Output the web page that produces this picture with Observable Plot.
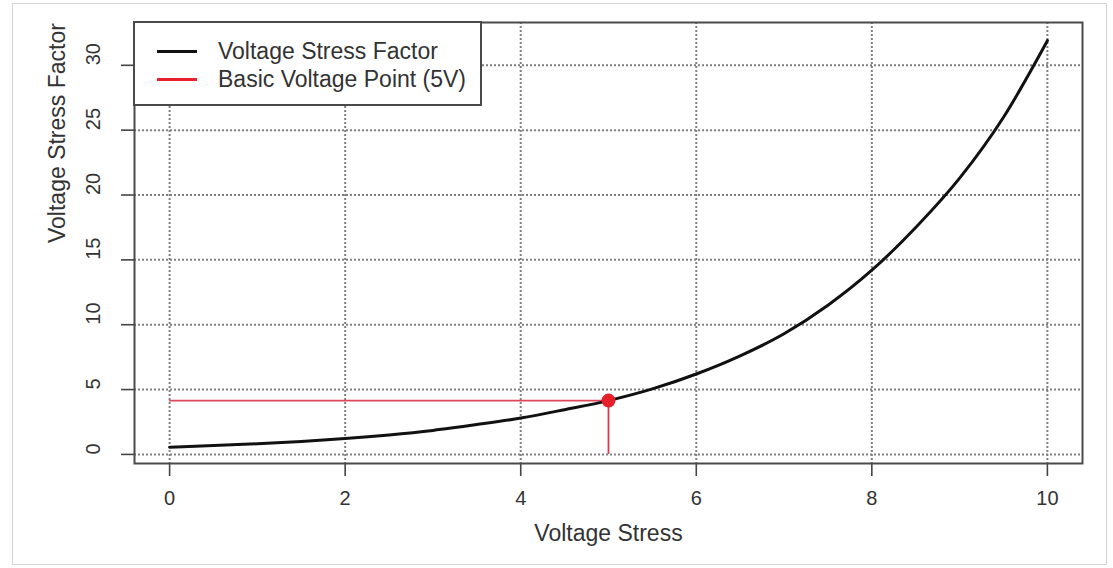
<!DOCTYPE html>
<html>
<head>
<meta charset="utf-8">
<script src="https://cdn.jsdelivr.net/npm/d3@7"></script>
<script src="https://cdn.jsdelivr.net/npm/@observablehq/plot@0.6"></script>
<style>
  body { margin: 0; background: #fff; font-family: "Liberation Sans", Arial, sans-serif; }
  #wrap { position: relative; width: 1113px; height: 568px; overflow: hidden; }
  #outer { position: absolute; left: 12px; top: 3px; width: 1093px; height: 560px; border: 1.5px solid #d4d4d4; pointer-events: none; }
  #legend { position: absolute; left: 133px; top: 21px; width: 349px; height: 85px; box-sizing: border-box;
            border: 2px solid #4a4a4a; background: #fff; }
  .row { position: absolute; left: 0; height: 28px; display: flex; align-items: center; }
  .swatch { position: absolute; left: 22px; width: 40px; height: 0; border-top: 3px solid #111; }
  .lbl { position: absolute; left: 83px; white-space: nowrap; font-size: 23px; color: #333; line-height: 28px; }
</style>
</head>
<body>
<div id="wrap">
  <div id="chart"></div>
  <div id="legend"></div>
  <div id="outer"></div>
</div>
<script>
// ---- data ----
const stress = [0, 0.5, 1, 1.5, 2, 2.5, 3, 3.5, 4, 4.5, 5, 5.5, 6, 6.5, 7, 7.5, 8, 8.5, 9, 9.5, 10];
const factor = [0.55, 0.68, 0.82, 1.0, 1.22, 1.5, 1.85, 2.3, 2.8, 3.45, 4.15, 5.05, 6.2, 7.6, 9.3, 11.5, 14.2, 17.5, 21.3, 26.0, 31.9];
const basicVoltage = 5;
const basicFactor = 4.15;
const xTicks = [0, 2, 4, 6, 8, 10];
const yTicks = [0, 5, 10, 15, 20, 25, 30];
const xTitle = "Voltage Stress";
const yTitle = "Voltage Stress Factor";
const seriesNames = ["Voltage Stress Factor", "Basic Voltage Point (5V)"];
const seriesColors = ["#111111", "#e8202c"];

const curve = stress.map((s, i) => ({stress: s, factor: factor[i]}));
const point = [{stress: basicVoltage, factor: basicFactor}];

const textColor = "#333";
const chart = Plot.plot({
  width: 1113,
  height: 568,
  marginLeft: 134,
  marginRight: 31,
  marginTop: 22,
  marginBottom: 105,
  style: {fontFamily: "'Liberation Sans', Arial, sans-serif", background: "transparent"},
  x: {domain: [-0.4, 10.4]},
  y: {domain: [-0.7, 33.3]},
  marks: [
    Plot.gridX(xTicks, {stroke: "#808080", strokeOpacity: 1, strokeWidth: 2, strokeDasharray: "2,2"}),
    Plot.gridY(yTicks, {stroke: "#808080", strokeOpacity: 1, strokeWidth: 2, strokeDasharray: "2,2"}),
    Plot.axisX(xTicks, {tickSize: 13, tickFormat: () => "", label: null, stroke: "#444", strokeWidth: 1.6}),
    Plot.axisY(yTicks, {tickSize: 13, tickFormat: () => "", label: null, stroke: "#444", strokeWidth: 1.6}),
    Plot.text(xTicks, {x: d => d, frameAnchor: "bottom", dy: 41, text: d => String(d), fontSize: 20, fill: textColor}),
    Plot.text(yTicks, {y: d => d, frameAnchor: "left", dx: -41, rotate: -90, text: d => String(d), fontSize: 20, fill: textColor}),
    Plot.text([xTitle], {frameAnchor: "bottom", dy: 77, text: d => d, fontSize: 23, fill: textColor}),
    Plot.text([yTitle], {frameAnchor: "left", dx: -77, rotate: -90, text: d => d, fontSize: 23, fill: textColor}),
    Plot.ruleY(point, {y: "factor", x1: 0, x2: "stress", stroke: "#e0465c", strokeWidth: 1.8}),
    Plot.ruleX(point, {x: "stress", y1: 0, y2: "factor", stroke: "#d93a50", strokeWidth: 1.8}),
    Plot.line(curve, {x: "stress", y: "factor", stroke: seriesColors[0], strokeWidth: 3, curve: "monotone-x"}),
    Plot.dot(point, {x: "stress", y: "factor", r: 7, fill: seriesColors[1], stroke: "none"}),
    Plot.frame({stroke: "#4a4a4a", strokeWidth: 2})
  ]
});
document.getElementById("chart").appendChild(chart);

// legend
const legend = document.getElementById("legend");
seriesNames.forEach((name, i) => {
  const row = document.createElement("div");
  row.className = "row";
  row.style.top = (14 + i * 28) + "px";
  const sw = document.createElement("div");
  sw.className = "swatch";
  sw.style.borderTopColor = seriesColors[i];
  sw.style.top = "13px";
  const lb = document.createElement("div");
  lb.className = "lbl";
  lb.textContent = name;
  row.appendChild(sw);
  row.appendChild(lb);
  legend.appendChild(row);
});
</script>
</body>
</html>
